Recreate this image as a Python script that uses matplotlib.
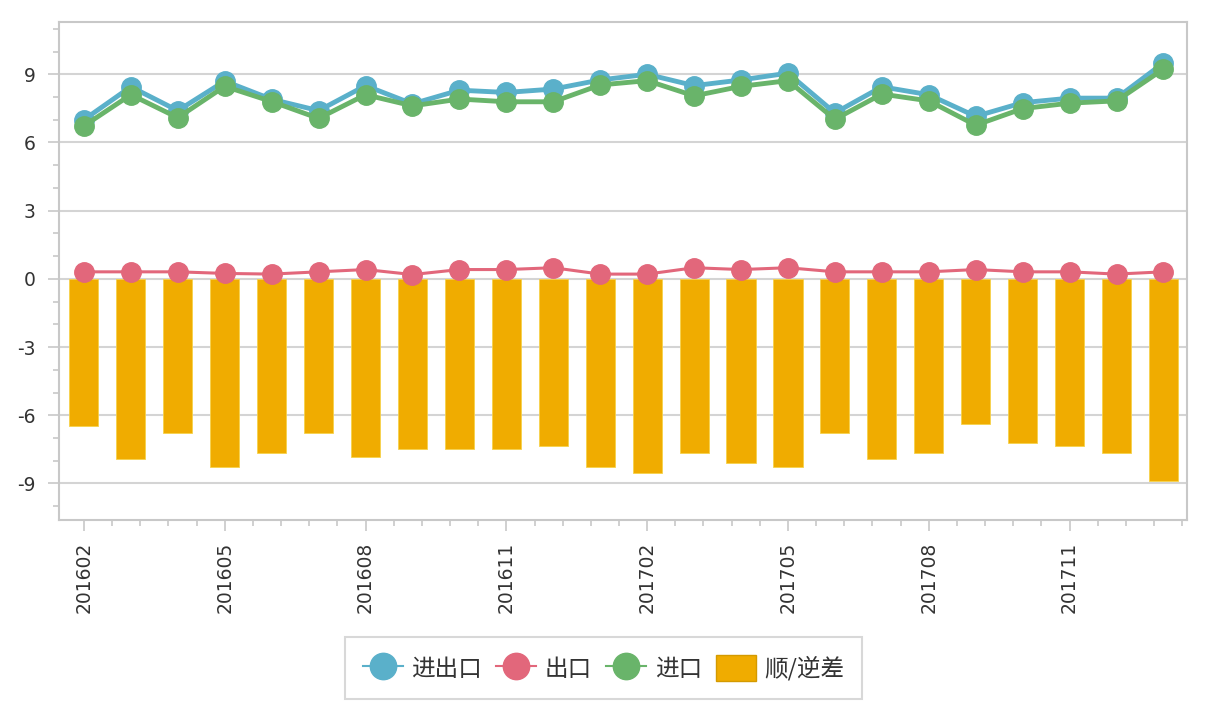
import matplotlib
matplotlib.use("Agg")
import matplotlib.pyplot as plt
from matplotlib.ticker import FixedLocator
from matplotlib.lines import Line2D
from matplotlib.patches import Patch

plt.rcParams['font.family'] = ['Noto Sans CJK SC', 'DejaVu Sans']
plt.rcParams['axes.unicode_minus'] = False

months = ["201602", "201603", "201604", "201605", "201606", "201607", "201608", "201609",
          "201610", "201611", "201612", "201701", "201702", "201703", "201704", "201705",
          "201706", "201707", "201708", "201709", "201710", "201711", "201712", "201801"]
total = [7.0, 8.45, 7.4, 8.7, 7.9, 7.4, 8.5, 7.7, 8.3, 8.2, 8.35, 8.75,
         9.0, 8.5, 8.75, 9.05, 7.3, 8.45, 8.1, 7.15, 7.75, 7.95, 7.95, 9.5]
exports = [0.31, 0.31, 0.31, 0.24, 0.21, 0.31, 0.41, 0.19, 0.41, 0.41, 0.49, 0.21,
           0.21, 0.49, 0.41, 0.49, 0.31, 0.31, 0.31, 0.41, 0.31, 0.31, 0.21, 0.31]
imports = [6.73, 8.1, 7.09, 8.47, 7.8, 7.06, 8.1, 7.61, 7.91, 7.79, 7.79, 8.53,
           8.72, 8.05, 8.47, 8.72, 7.02, 8.13, 7.83, 6.76, 7.49, 7.73, 7.83, 9.23]
balance = [-6.49, -7.91, -6.76, -8.26, -7.67, -6.76, -7.82, -7.48, -7.48, -7.48, -7.37, -8.26,
           -8.54, -7.65, -8.10, -8.26, -6.77, -7.92, -7.65, -6.40, -7.21, -7.37, -7.65, -8.89]
series_names = ["进出口", "出口", "进口", "顺/逆差"]

c_blue = "#5AB0CA"
c_red = "#E2677B"
c_green = "#69B46A"
c_bar = "#F0AC00"
grid_c = "#D4D4D4"
txt_c = "#333333"

fig = plt.figure(figsize=(12.05, 7.21), dpi=100)
ax = fig.add_axes([0.049, 0.279, 0.936, 0.6905])

x = list(range(len(months)))
ax.bar(x, balance, width=0.62, color=c_bar, edgecolor="#F6D24A", linewidth=0.6, zorder=2)
ax.plot(x, total, color=c_blue, lw=3.5, marker="o", ms=14, mec=c_blue, zorder=3)
ax.plot(x, imports, color=c_green, lw=3.5, marker="o", ms=14, mec=c_green, zorder=4)
ax.plot(x, exports, color=c_red, lw=2.2, marker="o", ms=14, mec=c_red, zorder=5)

ax.set_ylim(-10.6, 11.3)
ax.set_xlim(-0.53, 23.5)
ax.yaxis.set_major_locator(FixedLocator([-9, -6, -3, 0, 3, 6, 9]))
ax.yaxis.set_minor_locator(FixedLocator([v for v in range(-10, 12)]))
ax.grid(axis="y", color=grid_c, lw=1.5, zorder=0)
ax.set_axisbelow(True)

ax.xaxis.set_major_locator(FixedLocator(x[::3]))
ax.set_xticklabels(months[::3], rotation=90)
ax.xaxis.set_minor_locator(FixedLocator([i * 0.6 for i in range(0, 40)]))

for s in ax.spines.values():
    s.set_color("#C8C8C8")
    s.set_linewidth(1.5)

ax.tick_params(axis="both", which="major", length=8, width=1.2, color="#C8C8C8",
               labelsize=13.5, labelcolor=txt_c)
ax.tick_params(axis="both", which="minor", length=4, width=1.2, color="#C8C8C8")
ax.tick_params(axis="y", which="major", pad=9)
ax.tick_params(axis="x", which="major", pad=8)
for lab in ax.get_xticklabels() + ax.get_yticklabels():
    lab.set_fontfamily("DejaVu Sans")

handles = [
    Line2D([0], [0], color=c_blue, lw=1.5, marker="o", ms=19, mec=c_blue),
    Line2D([0], [0], color=c_red, lw=1.5, marker="o", ms=19, mec=c_red),
    Line2D([0], [0], color=c_green, lw=1.5, marker="o", ms=19, mec=c_green),
    Patch(facecolor=c_bar, edgecolor="#D49A00"),
]
leg = fig.legend(handles, series_names, loc="center", bbox_to_anchor=(0.501, 0.0735),
                 ncol=4, frameon=True, fancybox=False, fontsize=17, handlelength=1.7,
                 handletextpad=0.35, columnspacing=0.6, borderpad=0.75, handleheight=1.3)
leg.get_frame().set_edgecolor("#CFCFCF")
leg.get_frame().set_linewidth(1.5)
for t in leg.get_texts():
    t.set_color(txt_c)

fig.savefig("out.png", dpi=100, facecolor="white")
